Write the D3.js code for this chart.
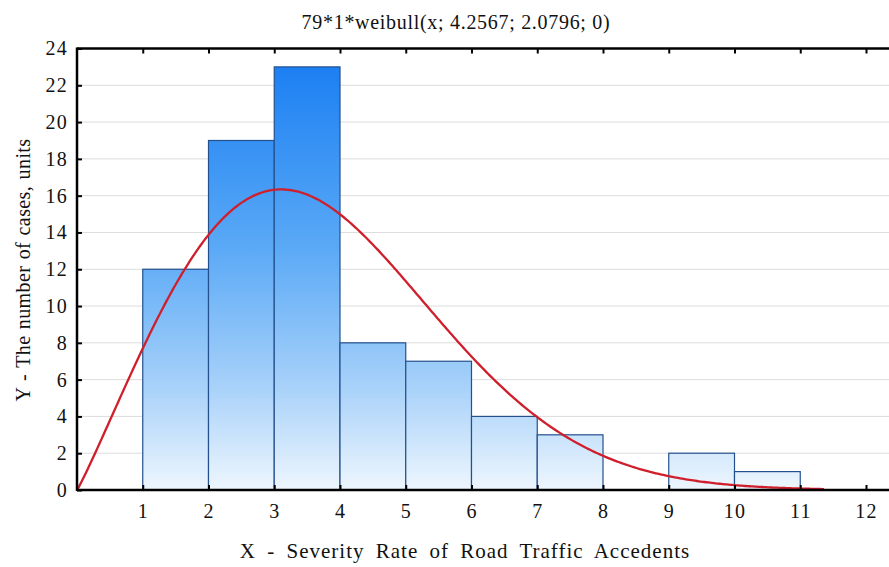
<!DOCTYPE html>
<html>
<head>
<meta charset="utf-8">
<script src="https://cdn.jsdelivr.net/npm/d3@7"></script>
<style>
  html, body { margin: 0; padding: 0; background: #fff; }
  svg { display: block; font-family: "Liberation Serif", "Times New Roman", serif; }
</style>
</head>
<body>
<svg id="chart" width="889" height="567"></svg>
<script>
// Histogram of severity rates (bin lower edges and case counts per bin)
const binStarts = [1, 2, 3, 4, 5, 6, 7, 8, 9, 10];
const binCounts = [12, 19, 23, 8, 7, 4, 3, 0, 2, 1];
const binWidth = 1;

// Fitted Weibull curve: N * binWidth * weibull(x; scale; shape; threshold)
const fitN = 79;
const fitScale = 4.2567;
const fitShape = 2.0796;
const fitThreshold = 0;
const curveRange = [0, 11.36];

const xTicks = [1, 2, 3, 4, 5, 6, 7, 8, 9, 10, 11, 12];
const yTicks = [0, 2, 4, 6, 8, 10, 12, 14, 16, 18, 20, 22, 24];

const titleText = "79*1*weibull(x; 4.2567; 2.0796; 0)";
const xLabel = "X - Severity Rate of Road Traffic Accedents";
const yLabel = "Y - The number of cases, units";

const svg = d3.select("#chart");
const plotLeft = 77, plotTop = 48.5, plotBottom = 490;

const x = d3.scaleLinear().domain([0, 12.5]).range([plotLeft, plotLeft + 12.5 * 65.75]);
const y = d3.scaleLinear().domain([0, 24]).range([plotBottom, plotTop]);

// Vertical gradient for bars, spanning the full plot height
const defs = svg.append("defs");
const grad = defs.append("linearGradient")
  .attr("id", "barFill")
  .attr("gradientUnits", "userSpaceOnUse")
  .attr("x1", 0).attr("x2", 0)
  .attr("y1", y(24)).attr("y2", y(0));
grad.append("stop").attr("offset", 0).attr("stop-color", "#167cf2");
grad.append("stop").attr("offset", 0.45).attr("stop-color", "#5aa9f6");
grad.append("stop").attr("offset", 0.75).attr("stop-color", "#a3cff9");
grad.append("stop").attr("offset", 1).attr("stop-color", "#eef6fe");

// Horizontal gridlines
svg.append("g")
  .selectAll("line")
  .data(yTicks.filter(d => d > 0 && d < 24))
  .join("line")
  .attr("x1", x(0)).attr("x2", 889)
  .attr("y1", d => y(d)).attr("y2", d => y(d))
  .attr("stroke", "#dcdcdc").attr("stroke-width", 1);

// Bars
const bins = binStarts.map((s, i) => ({ x0: s, x1: s + binWidth, n: binCounts[i] }));
svg.append("g")
  .selectAll("rect")
  .data(bins.filter(d => d.n > 0))
  .join("rect")
  .attr("x", d => x(d.x0))
  .attr("y", d => y(d.n))
  .attr("width", d => x(d.x1) - x(d.x0))
  .attr("height", d => y(0) - y(d.n))
  .attr("fill", "url(#barFill)")
  .attr("stroke", "#24508e")
  .attr("stroke-width", 1.2);

// Weibull density scaled to counts
function weibullPdf(v) {
  const t = (v - fitThreshold) / fitScale;
  if (t <= 0) return 0;
  return (fitShape / fitScale) * Math.pow(t, fitShape - 1) * Math.exp(-Math.pow(t, fitShape));
}
const curvePts = d3.range(0, 401).map(i => {
  const v = curveRange[0] + (curveRange[1] - curveRange[0]) * i / 400;
  return [v, fitN * binWidth * weibullPdf(v)];
});
svg.append("path")
  .datum(curvePts)
  .attr("fill", "none")
  .attr("stroke", "#d01f2c")
  .attr("stroke-width", 2.3)
  .attr("d", d3.line().x(d => x(d[0])).y(d => y(d[1])));

// Axes with inward ticks
const axisBottom = d3.axisBottom(x).tickValues(xTicks).tickSize(-5).tickPadding(14).tickFormat(d3.format("d"));
const axisTop = d3.axisTop(x).tickValues(xTicks).tickSize(-5).tickFormat("");
const axisLeft = d3.axisLeft(y).tickValues(yTicks).tickSize(-5).tickPadding(9).tickFormat(d3.format("d"));

function styleAxis(g) {
  g.attr("font-size", null).attr("font-family", null);
  g.select(".domain").remove();
  g.selectAll(".tick line").attr("stroke", "#000").attr("stroke-width", 2);
  g.selectAll(".tick text").attr("fill", "#111")
    .style("font-size", "20px")
    .style("letter-spacing", "1.2px")
    .style("font-family", "'Liberation Serif', 'Times New Roman', serif");
}

svg.append("g").attr("transform", `translate(0,${plotBottom})`).call(axisBottom).call(styleAxis);
svg.append("g").attr("transform", `translate(0,${plotTop})`).call(axisTop).call(styleAxis);
svg.append("g").attr("transform", `translate(${plotLeft},0)`).call(axisLeft).call(styleAxis);

// Frame lines (left, top, bottom)
svg.append("line").attr("x1", plotLeft).attr("x2", 889).attr("y1", plotTop).attr("y2", plotTop)
  .attr("stroke", "#000").attr("stroke-width", 2.5);
svg.append("line").attr("x1", plotLeft).attr("x2", 889).attr("y1", plotBottom).attr("y2", plotBottom)
  .attr("stroke", "#000").attr("stroke-width", 2.5);
svg.append("line").attr("x1", plotLeft).attr("x2", plotLeft).attr("y1", plotTop - 1).attr("y2", plotBottom + 1)
  .attr("stroke", "#000").attr("stroke-width", 2.5);

// Title and axis labels
svg.append("text")
  .attr("x", 456).attr("y", 29)
  .attr("text-anchor", "middle")
  .style("font-size", "20px").style("letter-spacing", "0.7px")
  .attr("fill", "#111")
  .text(titleText);

svg.append("text")
  .attr("x", 465).attr("y", 558)
  .attr("text-anchor", "middle")
  .style("font-size", "21px").style("letter-spacing", "1px").style("word-spacing", "5px")
  .attr("fill", "#111")
  .text(xLabel);

svg.append("text")
  .attr("transform", "translate(30,270) rotate(-90)")
  .attr("text-anchor", "middle")
  .style("font-size", "20px").style("letter-spacing", "0.4px").style("word-spacing", "1px")
  .attr("fill", "#111")
  .text(yLabel);
</script>
</body>
</html>
